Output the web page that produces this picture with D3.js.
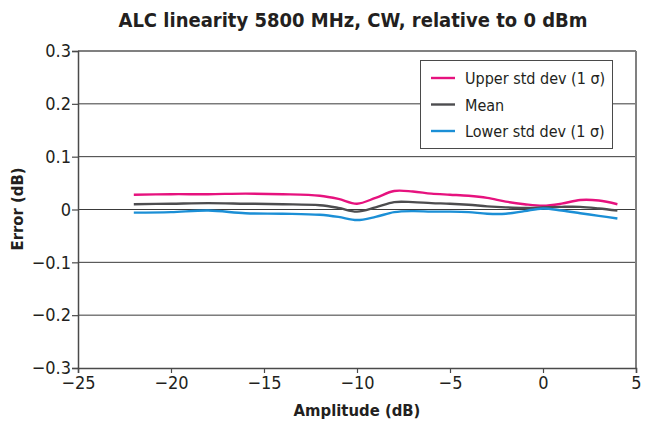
<!DOCTYPE html>
<html>
<head>
<meta charset="utf-8">
<script src="https://cdn.jsdelivr.net/npm/d3@7"></script>
<style>
  body { margin: 0; background: #fff; }
  svg text { font-family: "Liberation Sans Narrow", "DejaVu Sans Condensed", "Arial Narrow", sans-serif; fill: #231f20; }
</style>
</head>
<body>
<svg id="chart" width="660" height="427"></svg>
<script>
// amplitude steps (dB)
var amplitude = [-22, -20, -18, -16, -14, -12, -11, -10, -9, -8, -7, -6, -5, -4, -3, -2, -1, 0, 1, 2, 3, 4];
// error values (dB)
var upperStd = [0.028, 0.029, 0.029, 0.030, 0.029, 0.026, 0.020, 0.011, 0.022, 0.035, 0.034, 0.030, 0.028, 0.026, 0.022, 0.015, 0.010, 0.007, 0.011, 0.018, 0.017, 0.010];
var meanErr  = [0.010, 0.011, 0.012, 0.011, 0.010, 0.008, 0.003, -0.004, 0.004, 0.014, 0.014, 0.012, 0.011, 0.009, 0.006, 0.004, 0.003, 0.004, 0.005, 0.005, 0.002, -0.002];
var lowerStd = [-0.006, -0.005, -0.002, -0.007, -0.008, -0.010, -0.014, -0.020, -0.014, -0.005, -0.003, -0.004, -0.004, -0.005, -0.008, -0.008, -0.003, 0.002, -0.002, -0.007, -0.012, -0.017];

var xTicks = [-25, -20, -15, -10, -5, 0, 5];
var yTicks = [-0.3, -0.2, -0.1, 0, 0.1, 0.2, 0.3];

var seriesNames = ["Upper std dev (1 \u03c3)", "Mean", "Lower std dev (1 \u03c3)"];
var seriesColors = ["#e6127e", "#4d4d4f", "#1b8fd6"];
var seriesValues = [upperStd, meanErr, lowerStd];

var svg = d3.select("#chart");
// note: "top" is taken by window.top, so use plot* names
var plotLeft = 78, plotRight = 636, plotTop = 51, plotBottom = 368;

var x = d3.scaleLinear().domain([-25, 5]).range([plotLeft, plotRight]);
var y = d3.scaleLinear().domain([-0.3, 0.3]).range([plotBottom, plotTop]);

function fmt(v) {
    if (v === 0) return "0";
    return (v < 0 ? "\u2212" : "") + Math.abs(v).toFixed(1);
}
function fmtX(v) {
    return (v < 0 ? "\u2212" : "") + Math.abs(v);
}

// gridlines
svg.append("g").selectAll("line")
    .data(yTicks.filter(function (d) { return d > -0.3 && d < 0.3; }))
    .enter().append("line")
    .attr("x1", plotLeft).attr("x2", plotRight)
    .attr("y1", function (d) { return y(d); })
    .attr("y2", function (d) { return y(d); })
    .attr("stroke", "#3a3a3a")
    .attr("stroke-width", 1);

// frame (top + right lighter)
svg.append("line").attr("x1", plotLeft).attr("x2", plotRight).attr("y1", plotTop).attr("y2", plotTop)
    .attr("stroke", "#808080").attr("stroke-width", 2);
svg.append("line").attr("x1", plotRight).attr("x2", plotRight).attr("y1", plotTop).attr("y2", plotBottom)
    .attr("stroke", "#808080").attr("stroke-width", 2);

// y axis
var yAxis = d3.axisLeft(y).tickValues(yTicks).tickSize(6).tickPadding(1).tickFormat(fmt);
var gy = svg.append("g").attr("transform", "translate(" + plotLeft + ",0)").call(yAxis);
gy.select(".domain").attr("stroke", "#4a4a4a").attr("stroke-width", 1.5);
gy.selectAll(".tick line").attr("stroke", "#4a4a4a").attr("stroke-width", 1.2);
gy.selectAll(".tick text").style("font-size", "18px").attr("fill", "#231f20")
    .style("font-family", "'DejaVu Sans Condensed', sans-serif");

// x axis
var xAxis = d3.axisBottom(x).tickValues(xTicks).tickSize(5).tickPadding(3).tickFormat(fmtX);
var gx = svg.append("g").attr("transform", "translate(0," + plotBottom + ")").call(xAxis);
gx.select(".domain").attr("stroke", "#4a4a4a").attr("stroke-width", 1.5);
gx.selectAll(".tick line").attr("stroke", "#4a4a4a").attr("stroke-width", 1.2);
gx.selectAll(".tick text").style("font-size", "18px").attr("fill", "#231f20")
    .style("font-family", "'DejaVu Sans Condensed', sans-serif");

// series lines
var line = d3.line()
    .x(function (d) { return x(d[0]); })
    .y(function (d) { return y(d[1]); })
    .curve(d3.curveCatmullRom.alpha(0.5));

seriesValues.forEach(function (vals, i) {
    svg.append("path")
        .datum(amplitude.map(function (a, j) { return [a, vals[j]]; }))
        .attr("fill", "none")
        .attr("stroke", seriesColors[i])
        .attr("stroke-width", 2.4)
        .attr("d", line);
});

// legend
var legend = svg.append("g");
legend.append("rect")
    .attr("x", 420.5).attr("y", 60.5).attr("width", 192).attr("height", 88)
    .attr("fill", "#fff").attr("stroke", "#4a4a4a").attr("stroke-width", 1);
seriesNames.forEach(function (name, i) {
    var ry = 78 + i * 26.5;
    legend.append("line")
        .attr("x1", 431).attr("x2", 455).attr("y1", ry).attr("y2", ry)
        .attr("stroke", seriesColors[i]).attr("stroke-width", 2.4);
    legend.append("text")
        .attr("x", 465).attr("y", ry + 6)
        .style("font-size", "16px")
        .text(name);
});

// title + axis titles
svg.append("text")
    .attr("x", 353).attr("y", 27)
    .attr("text-anchor", "middle")
    .style("font-size", "20px").style("font-weight", "bold")
    .text("ALC linearity 5800 MHz, CW, relative to 0 dBm");

svg.append("text")
    .attr("x", 357).attr("y", 416)
    .attr("text-anchor", "middle")
    .style("font-size", "16.5px").style("font-weight", "bold")
    .text("Amplitude (dB)");

svg.append("text")
    .attr("transform", "translate(23,209) rotate(-90)")
    .attr("text-anchor", "middle")
    .style("font-size", "16.5px").style("font-weight", "bold")
    .text("Error (dB)");
</script>
</body>
</html>
